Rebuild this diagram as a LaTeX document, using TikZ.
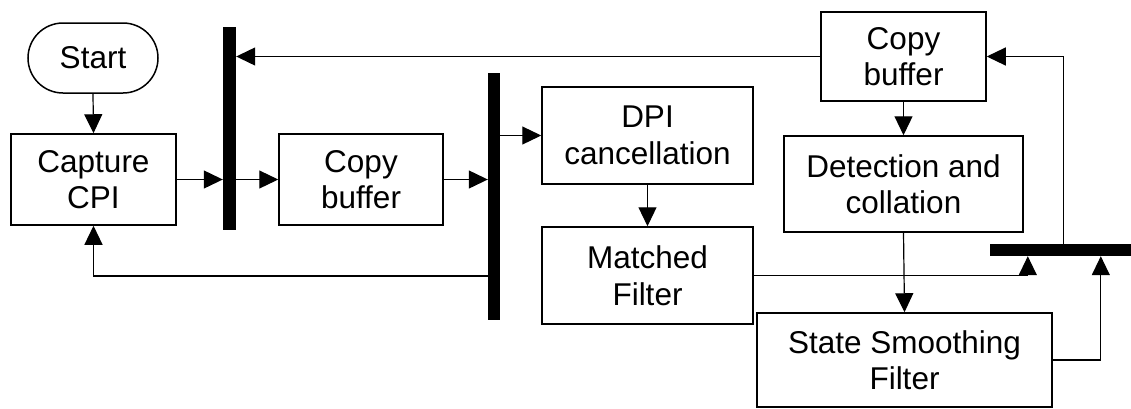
\documentclass[tikz,border=0pt]{standalone}
\usepackage{fontspec}
\setmainfont{Liberation Sans}
\usetikzlibrary{arrows.meta}
\begin{document}
\begin{tikzpicture}[x=1pt,y=-1pt,
  box/.style={draw,line width=1.5pt,rectangle,inner sep=0pt,align=center,
    font=\fontsize{31.5}{36.5}\selectfont},
  term/.style={box,rounded corners=35pt},
  bar/.style={rectangle,fill=black,inner sep=0pt},
  conn/.style={line width=1.2pt,-{Triangle[length=19pt,width=18pt]}}]
\useasboundingbox (0,0) rectangle (1131,408);

% process blocks
\node[term,minimum width=130pt,minimum height=70pt] (start) at (93,58) {Start};
\node[box,minimum width=165pt,minimum height=91pt] (cap) at (93.5,179.5) {Capture\\CPI};
\node[box,minimum width=164pt,minimum height=91pt] (cb1) at (361,179.5) {Copy\\buffer};
\node[box,minimum width=211pt,minimum height=97pt] (dpi) at (647.5,135.5) {DPI\\cancellation};
\node[box,minimum width=211pt,minimum height=97pt] (mf) at (647.5,275.5) {Matched\\Filter};
\node[box,minimum width=165pt,minimum height=89pt] (cb2) at (903.5,56.5) {Copy\\buffer};
\node[box,minimum width=239pt,minimum height=96pt] (det) at (903.5,184) {Detection and\\collation};
\node[box,minimum width=295pt,minimum height=94pt] (ssf) at (904.5,360) {State Smoothing\\Filter};

% synchronisation bars
\node[bar,minimum width=13pt,minimum height=203pt] (bar1) at (229.5,128.5) {};
\node[bar,minimum width=12pt,minimum height=247pt] (bar2) at (494,196.5) {};
\node[bar,minimum width=141pt,minimum height=12pt] (bar3) at (1060.5,250) {};

% connectors
\draw[conn] (start.south) -- (cap.north);
\draw[conn] (cap.east) -- (cap.east -| bar1.west);
\draw[conn] (bar1.east |- cb1.west) -- (cb1.west);
\draw[conn] (cb1.east) -- (cb1.east -| bar2.west);
\draw[conn] (bar2.east |- dpi.west) -- (dpi.west);
\draw[conn] (dpi.south) -- (mf.north);
\draw[conn] ([yshift=-79.5pt]bar2.west) -| (cap.south);
\draw[conn] (mf.east) -| ([xshift=38pt]bar3.south west);
\draw[conn] (cb2.west) -- (cb2.west -| bar1.east);
\draw[conn] (cb2.south) -- (det.north);
\draw[conn] (det.south) -- (ssf.north);
\draw[conn] (ssf.east) -| ([xshift=111pt]bar3.south west);
\draw[conn] ([xshift=74pt]bar3.north west) |- (cb2.east);
\end{tikzpicture}
\end{document}
